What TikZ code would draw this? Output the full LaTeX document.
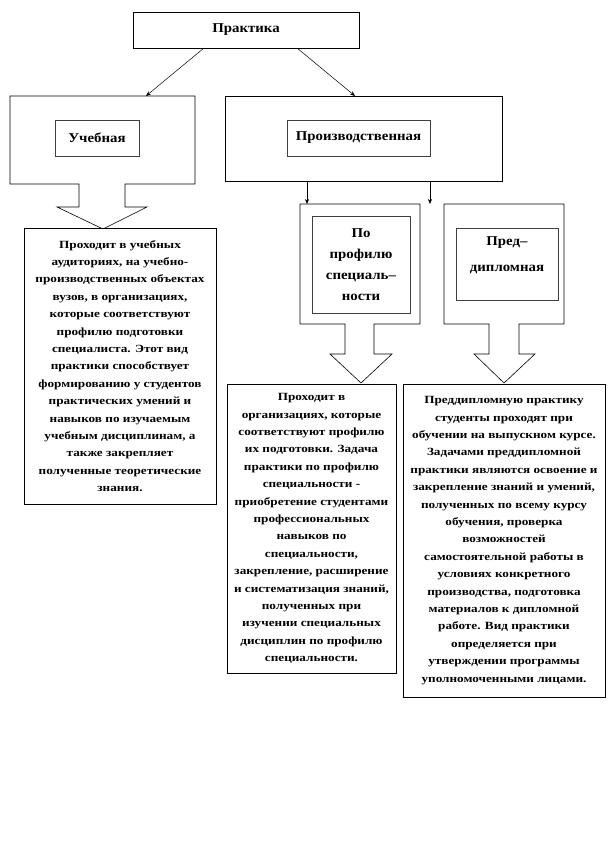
\documentclass[tikz,border=0pt]{standalone}
\usepackage{fontspec}
\setmainfont{Liberation Serif}
\newfontfamily\stretchfont[FakeStretch=1.1]{Liberation Serif}
\newfontfamily\bodyfont[FakeStretch=1.2]{Liberation Serif}
\usetikzlibrary{arrows.meta,calc}
\tikzset{
  outline/.style={draw=black, line width=0.6pt, fill=white},
  titlebox/.style={draw=black, line width=0.6pt, fill=white, inner sep=0pt,
    font=\stretchfont\fontsize{13.5}{16}\selectfont\bfseries},
  innerbox/.style={draw=black!75, line width=0.8pt, fill=white, inner sep=0pt,
    font=\stretchfont\fontsize{13.5}{21}\selectfont\bfseries, align=center},
  textbox/.style={draw=black, line width=0.6pt, fill=white, inner sep=0pt,
    align=center, font=\bodyfont\fontsize{11}{17.4}\selectfont\bfseries},
  conn/.style={line width=0.5pt, -{Stealth[length=5pt,width=4pt]}}
}
\begin{document}
\begin{tikzpicture}[x=1pt,y=-1pt]
\useasboundingbox (0,0) rectangle (612,864);
\fill[white] (0,0) rectangle (612,864);

% top
\node[titlebox, minimum width=226pt, minimum height=36pt] (prakt) at (246,30) {Практика};

% left callout
\draw[outline] (10,96) -- (195,96) -- (195,184) -- (125,184) -- (125,207) -- (147,207)
  -- (103,229) -- (57,207) -- (79,207) -- (79,184) -- (10,184) -- cycle;
\coordinate (uchtop) at (146,96);
\node[innerbox, minimum width=84pt, minimum height=36pt] (uch) at (97,138) {Учебная};

% right big box
\draw[outline] (225,96) rectangle (502,181);
\coordinate (proiztop) at (355,96);
\node[innerbox, minimum width=143pt, minimum height=36pt] (proiz) at (358.5,138) {Производственная};

% connectors from top
\coordinate (pa) at (204,48);
\coordinate (pb) at (297,48);
\draw[conn] (pa) -- (uchtop);
\draw[conn] (pb) -- (proiztop);

% second level callouts
\draw[outline] (300,204) -- (420,204) -- (420,324) -- (374,324) -- (374,354) -- (392,354)
  -- (361,383) -- (330,354) -- (345,354) -- (345,324) -- (300,324) -- cycle;
\draw[outline] (444,204) -- (564,204) -- (564,324) -- (519,324) -- (519,354) -- (535,354)
  -- (504,383) -- (474,354) -- (489,354) -- (489,324) -- (444,324) -- cycle;
\coordinate (ca) at (307,181);
\coordinate (cb) at (430,181);
\coordinate (cat) at (307,204);
\coordinate (cbt) at (430,204);
\draw[conn] (ca) -- (cat);
\draw[conn] (cb) -- (cbt);

\node[innerbox, minimum width=98pt, minimum height=97pt] (prof) at (361,264.5)
  {По\\профилю\\специаль–\\ности};
\node[innerbox, minimum width=102pt, minimum height=72pt] (pred) at (507,264) {};
\node[font=\stretchfont\fontsize{13.5}{26}\selectfont\bfseries, align=center, inner sep=0pt]
  (predtxt) at (507,255) {Пред–\\дипломная};

% text boxes
\node[textbox, minimum width=192pt, minimum height=276pt] (t1) at (120,366) {%
Проходит в учебных\\
аудиториях, на учебно-\\
производственных объектах\\
вузов, в организациях,\\
которые соответствуют\\
профилю подготовки\\
специалиста. Этот вид\\
практики способствует\\
формированию у студентов\\
практических умений и\\
навыков по изучаемым\\
учебным дисциплинам, а\\
также закрепляет\\
полученные теоретические\\
знания.};

\node[textbox, minimum width=169pt, minimum height=289pt] (t2) at (311.5,528.5) {%
Проходит в\\
организациях, которые\\
соответствуют профилю\\
их подготовки. Задача\\
практики по профилю\\
специальности -\\
приобретение студентами\\
профессиональных\\
навыков по\\
специальности,\\
закрепление, расширение\\
и систематизация знаний,\\
полученных при\\
изучении специальных\\
дисциплин по профилю\\
специальности.};

\node[textbox, minimum width=202pt, minimum height=313pt] (t3) at (504,540.5) {%
Преддипломную практику\\
студенты проходят при\\
обучении на выпускном курсе.\\
Задачами преддипломной\\
практики являются освоение и\\
закрепление знаний и умений,\\
полученных по всему курсу\\
обучения, проверка\\
возможностей\\
самостоятельной работы в\\
условиях конкретного\\
производства, подготовка\\
материалов к дипломной\\
работе. Вид практики\\
определяется при\\
утверждении программы\\
уполномоченными лицами.};
\end{tikzpicture}
\end{document}
